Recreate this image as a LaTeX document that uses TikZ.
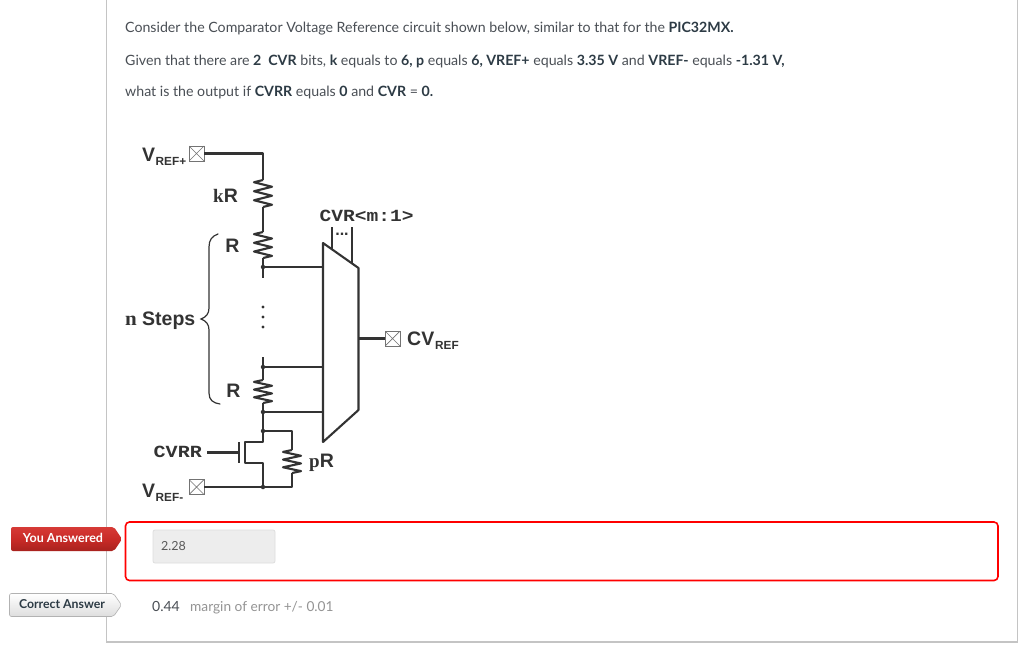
\documentclass[tikz,border=0pt]{standalone}
\usepackage{fontspec}
\setmainfont{Lato}
\newfontfamily\arialf{Liberation Sans}
\newfontfamily\monof{Liberation Mono}
\newfontfamily\seriff{Liberation Serif}
\usetikzlibrary{calc,decorations.pathreplacing}
\definecolor{bodytxt}{HTML}{4A4F55}
\definecolor{boldtxt}{HTML}{2D3B45}
\definecolor{framec}{HTML}{C4C4C4}
\definecolor{wirec}{HTML}{333333}
\definecolor{redtop}{HTML}{D63A36}
\definecolor{redmid}{HTML}{C92B27}
\definecolor{redbot}{HTML}{A8221E}
\newcommand{\fs}[1]{\fontsize{#1}{#1}\selectfont}
\newcommand{\bt}[1]{\textcolor{boldtxt}{\textbf{#1}}}
\tikzset{
  x=1pt,y=-1pt,
  wire/.style={draw=wirec,line width=2.1pt,line join=round},
  para/.style={anchor=base west,inner sep=0pt,text=bodytxt,font=\fs{14.18}},
  lab/.style={inner sep=0pt,text=wirec,font=\arialf\bfseries\fs{19.5}},
  sublab/.style={inner sep=0pt,text=wirec,font=\arialf\bfseries\fs{11.8}},
  mono/.style={inner sep=0pt,text=wirec,font=\monof\bfseries\fs{17}},
  pad/.style={draw=black!55,line width=0.8pt,fill=white,minimum size=15pt,inner sep=0pt,
    path picture={\draw[black!55,line width=0.7pt] (path picture bounding box.north west)--(path picture bounding box.south east)
      (path picture bounding box.north east)--(path picture bounding box.south west);}},
  jdot/.style={circle,fill=wirec,inner sep=0pt,minimum size=4.5pt},
  res/.pic={\draw[wire] (0,0)--(-9,1)--(9,3)--(-9,5)--(9,7)--(-9,9)--(9,11)--(0,12);},
  badge/.style={rounded corners=2pt,line width=0.6pt},
}
\begin{document}
\begin{tikzpicture}
\useasboundingbox (0,0) rectangle (1024,655);
\fill[white] (0,0) rectangle (1024,655);
% frame
\draw[framec,line width=1.1pt] (106.5,-2) -- (106.5,642) -- (1017.5,642) -- (1017.5,-2);
% question text
\node[para] (l1) at (125,33) {Consider the Comparator Voltage Reference circuit shown below, similar to that for the \bt{PIC32MX.}};
\node[para] (l2) at (125,65.5) {Given that there are \bt{2\ \ CVR} bits, \bt{k} equals to \bt{6, p} equals \bt{6, VREF+} equals \bt{3.35 V} and \bt{VREF-} equals \bt{-1.31 V,}};
\node[para] (l3) at (125,96.5) {what is the output if \bt{CVRR} equals \bt{0} and \bt{CVR} = \bt{0.}};
% pads
\node[pad] (vp) at (196.5,153.5) {};
\node[pad] (vm) at (196.5,487) {};
\node[pad] (cv) at (392.5,338.5) {};
% coordinates
\coordinate (c1) at (263,153.5);
\coordinate (r1t) at (263,180);
\coordinate (r1b) at (263,207);
\coordinate (r2t) at (263,232);
\coordinate (r2b) at (263,258);
\coordinate (n1) at (263,267);
\coordinate (s1) at (263,278);
\coordinate (s2) at (263,357);
\coordinate (n2) at (263,367);
\coordinate (r3t) at (263,380);
\coordinate (r3b) at (263,403);
\coordinate (n3) at (263,412);
\coordinate (n4) at (263,431);
\coordinate (n5) at (263,487);
\coordinate (d) at (263,442);
\coordinate (dl) at (245,442);
\coordinate (sl) at (245,463);
\coordinate (so) at (263,463);
\coordinate (gt) at (239,442);
\coordinate (gb) at (239,463);
\coordinate (gm) at (239,452.5);
\coordinate (gl) at (207,452.5);
\coordinate (pt) at (292,431);
\coordinate (prt) at (292,450);
\coordinate (prb) at (292,473);
\coordinate (pb) at (292,487);
\coordinate (mtl) at (323,243);
\coordinate (mtr) at (358.5,268);
\coordinate (mbr) at (358.5,410);
\coordinate (mbl) at (323,442);
% wires
\draw[wire] (vp.east) -- (c1) -- (r1t);
\pic[yscale=2.25] at (r1t) {res};
\draw[wire] (r1b) -- (r2t);
\pic[yscale=2.17] at (r2t) {res};
\draw[wire] (r2b) -- (s1);
\draw[wire] (n1) -- (n1-|mtl);
\draw[wire] (s2) -- (r3t);
\pic[yscale=1.92] at (r3t) {res};
\draw[wire] (n2) -- (n2-|mtl);
\draw[wire] (r3b) -- (n3) -- (n4) -- (d) -- (dl) -- (sl) -- (so) -- (n5);
\draw[wire] (n3) -- (n3-|mtl);
\draw[wire] (gt) -- (gb);
\draw[wire] (gl) -- (gm);
\draw[wire] (n4) -- (pt) -- (prt);
\pic[yscale=1.92] at (prt) {res};
\draw[wire] (prb) -- (pb) -- (n5) -- (vm.east);
% mux
\draw[wire] (mtl) -- (mtr) -- (mbr) -- (mbl) -- cycle;
\coordinate (cv1t) at (332,227); \coordinate (cv1b) at (332,249.5);
\coordinate (cv2t) at (352,227); \coordinate (cv2b) at (352,263.5);
\draw[wire] (cv1t) -- (cv1b);
\draw[wire] (cv2t) -- (cv2b);
\node[inner sep=0pt,text=wirec,font=\arialf\bfseries\fs{16}] (dots) at (342,234) {...};
\draw[wire] (358.5,338.5) -- (cv.west);
% junctions
\foreach \p in {n1,n2,n3,n4,n5} \node[jdot] at (\p) {};
% vertical ellipsis
\foreach \yy [count=\i] in {307,317,327} \fill[wirec] (263,\yy) circle (1.7pt);
% brace
\draw[wirec,line width=1.2pt,line cap=round] (218,234) .. controls (212,236) and (209,240) .. (209,247) -- (209,308)
  .. controls (209,314) and (206,317) .. (201,319) .. controls (206,321) and (209,324) .. (209,330) -- (209,393)
  .. controls (209,400) and (213,403) .. (220,404);
% labels
\node[lab,anchor=base west] (t1) at (142,162) {V};
\node[sublab,anchor=base west] (t1s) at (155.5,166) {REF+};
\node[lab,anchor=base west] (t2) at (142,497) {V};
\node[sublab,anchor=base west] (t2s) at (155.5,501) {REF-};
\node[lab,anchor=base west] (t3) at (407,345) {CV};
\node[sublab,anchor=base west] (t3s) at (435,349.5) {REF};
\node[lab,anchor=base west] (t4) at (142,325) {Steps};
\node[inner sep=0pt,anchor=base west,text=wirec,font=\seriff\bfseries\fs{20}] (t5) at (125,325) {\scalebox{1.05}[1]{n}};
\node[lab] (t6) at (232.5,246) {R};
\node[lab] (t7) at (233.5,391) {R};
\node[anchor=base west,inner sep=0pt,text=wirec] (t8) at (213,202.5) {\seriff\bfseries\fs{19}k\arialf\fs{19.5}R};
\node[anchor=base west,inner sep=0pt,text=wirec] (t9) at (309,467) {\seriff\bfseries\fs{19}p\arialf\fs{19.5}R};
\node[mono,anchor=base west] (t10) at (319.5,221.5) {\scalebox{1.15}[1]{CVR<m:1>}};
\node[mono,anchor=base west] (t11) at (153.5,457.5) {\scalebox{1.18}[1]{CVRR}};
% answer region
\draw[red,line width=1.6pt,rounded corners=4pt] (125.5,522) rectangle (998,580.5);
\node[draw=black!13,fill=black!7,line width=0.8pt,rounded corners=2pt,minimum width=122pt,minimum height=33pt,inner sep=0pt] (inp) at (214,546.5) {};
\node[anchor=base west,inner sep=0pt,text=black!65,font=\fs{12.5}] (v1) at (161,550.5) {2.28};
\path[badge,top color=redtop,bottom color=redbot,middle color=redmid] (11,527) -- (114,527) -- (122,539) -- (114,551) -- (11,551) -- cycle;
\node[inner sep=0pt,text=white,font=\bfseries\fs{12.5}] (ya) at (63,538) {You Answered};
\path[badge,draw=black!30,top color=white,bottom color=black!13] (9.5,593.5) -- (113.5,593.5) -- (121.5,605) -- (113.5,616.5) -- (9.5,616.5) -- cycle;
\node[inner sep=0pt,text=boldtxt,font=\bfseries\fs{12.3}] (ca) at (62,604) {Correct Answer};
\node[anchor=base west,inner sep=0pt,text=bodytxt,font=\fs{14}] (ans) at (152,611) {0.44};
\node[anchor=base west,inner sep=0pt,text=black!42,font=\fs{13.7}] (moe) at (190,611) {margin of error +/- 0.01};
\end{tikzpicture}
\end{document}
